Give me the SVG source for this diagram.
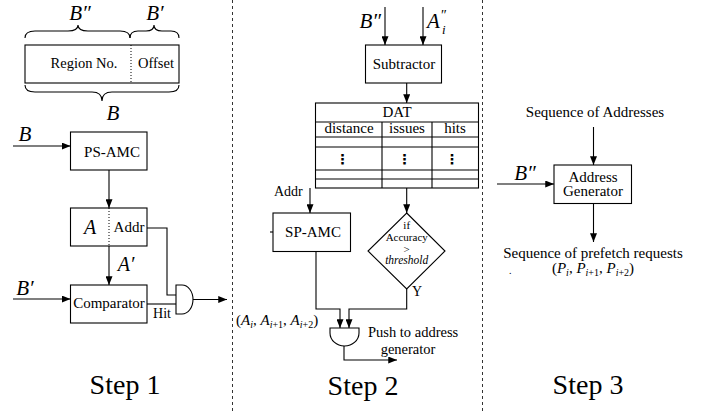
<svg xmlns="http://www.w3.org/2000/svg" width="713" height="411" viewBox="0 0 713 411" font-family="Liberation Serif, DejaVu Serif, serif">
<style>
.t{font-size:15px;fill:#000}
.s{font-size:11px}
.m{font-style:italic;font-size:21px}
.st{font-size:28px}
.c{text-anchor:middle}
.b{fill:#fff;stroke:#000;stroke-width:1.1}
.l{fill:none;stroke:#000;stroke-width:1.1}
.a{fill:none;stroke:#000;stroke-width:1.1;marker-end:url(#ah)}
.d{fill:none;stroke:#333;stroke-width:1;stroke-dasharray:3 3}
.dot{fill:none;stroke:#000;stroke-width:1;stroke-dasharray:1 2}
.vd{font-size:14px;font-weight:bold;text-anchor:middle}
</style>
<defs>
<marker id="ah" viewBox="0 0 10 8" refX="10" refY="4" markerWidth="9" markerHeight="7" markerUnits="userSpaceOnUse" orient="auto"><path d="M0,0 L10,4 L0,8 Z" fill="#000"/></marker>
</defs>
<rect width="713" height="411" fill="#fff"/>
<g id="separators">
<line class="d" x1="232.5" y1="0" x2="232.5" y2="411"/>
<line class="d" x1="482.5" y1="0" x2="482.5" y2="411"/>
</g>
<g id="address-format">
<path class="l" d="M25,38 Q25,31 35,31 L68,31 Q78,31 78,25 Q78,31 88,31 L120,31 Q130,31 130,38"/>
<path class="l" d="M130,38 Q130,31 138,31 L146,31 Q154,31 154,25 Q154,31 162,31 L171,31 Q179,31 179,38"/>
<text class="t m c" x="80" y="20">B″</text>
<text class="t m c" x="155" y="20">B′</text>
<rect class="b" x="25" y="45" width="154" height="38"/>
<line class="dot" x1="131" y1="45" x2="131" y2="83"/>
<text class="t c" x="84" y="68" style="font-size:14.5px">Region No.</text>
<text class="t c" x="156" y="68" style="font-size:14.5px">Offset</text>
<path class="l" d="M25,85 Q25,92 35,92 L92,92 Q102,92 102,101 Q102,92 112,92 L169,92 Q179,92 179,85"/>
<text class="t m c" x="113" y="120">B</text>
</g>
<g id="ps-amc">
<rect class="b" x="70.5" y="132" width="76.5" height="38"/>
<text class="t c" x="112" y="157">PS-AMC</text>
</g>
<g id="a-addr">
<rect class="b" x="70.5" y="208" width="76.5" height="38"/>
<line class="dot" x1="109" y1="208" x2="109" y2="246"/>
<text class="t m c" x="90" y="234" style="font-size:20px">A</text>
<text class="t c" x="129" y="232">Addr</text>
</g>
<g id="comparator">
<rect class="b" x="70.5" y="285" width="76.5" height="38"/>
<text class="t c" x="109" y="308">Comparator</text>
</g>
<g id="and1">
<path class="b" d="M176,285 L182,285 A11,14.5 0 0 1 182,314 L176,314 Z"/>
</g>
<g id="step1-labels">
<text class="t m c" x="25" y="141">B</text>
<text class="t m c" x="25" y="295">B′</text>
<text class="t m c" x="126" y="271" style="font-size:20px">A′</text>
<text class="t c" x="162" y="318" style="font-size:14px">Hit</text>
<text class="t st c" x="125" y="394">Step 1</text>
</g>
<g id="subtractor">
<rect class="b" x="365.5" y="45" width="76" height="38"/>
<text class="t c" x="404" y="69">Subtractor</text>
</g>
<g id="dat">
<rect class="b" x="315.5" y="103" width="163" height="85"/>
<path class="l" d="M315.5,122 H478.5 M315.5,137 H478.5 M315.5,147 H478.5 M315.5,170 H478.5 M315.5,179 H478.5 M382,122 V188 M432,122 V188"/>
<text class="t c" x="397" y="117">DAT</text>
<text class="t c" x="349" y="133">distance</text>
<text class="t c" x="407" y="133">issues</text>
<text class="t c" x="455" y="133">hits</text>
<text class="vd" x="342.5" y="164" font-family="DejaVu Sans, sans-serif">⋮</text>
<text class="vd" x="404.5" y="164" font-family="DejaVu Sans, sans-serif">⋮</text>
<text class="vd" x="452" y="164" font-family="DejaVu Sans, sans-serif">⋮</text>
</g>
<g id="sp-amc">
<rect class="b" x="273" y="213" width="77.5" height="38.5"/>
<line class="l" x1="270" y1="232" x2="273" y2="232"/>
<text class="t c" x="313" y="237">SP-AMC</text>
</g>
<g id="decision">
<polygon class="b" points="406.7,213 445,251 406.7,289 368,251"/>
<text class="t s c" x="406.7" y="229">if</text>
<text class="t s c" x="406.7" y="241">Accuracy</text>
<text class="t s c" x="406.7" y="252.5">&gt;</text>
<text class="t s c" x="406.7" y="264" style="font-style:italic;font-size:11.5px">threshold</text>
</g>
<g id="and2">
<path class="b" d="M330,328 L359,328 L359,333 A14.5,13 0 0 1 330,333 Z"/>
</g>
<g id="step2-labels">
<text class="t m" x="381" y="28" text-anchor="end">B″</text>
<text class="t m" x="427" y="28">A</text>
<text class="t" x="441" y="20" style="font-size:14px">″</text>
<text class="t" x="442" y="34" style="font-size:13px;font-style:italic">i</text>
<text class="t" x="274" y="196" style="font-size:14px">Addr</text>
<text class="t" x="412" y="296" style="font-size:14px">Y</text>
<text class="t" x="236" y="325"><tspan>(</tspan><tspan font-style="italic">A</tspan><tspan font-style="italic" style="font-size:10px" dy="3">i</tspan><tspan dy="-3">, </tspan><tspan font-style="italic">A</tspan><tspan font-style="italic" style="font-size:10px" dy="3">i</tspan><tspan style="font-size:10px">+1</tspan><tspan dy="-3">, </tspan><tspan font-style="italic">A</tspan><tspan font-style="italic" style="font-size:10px" dy="3">i</tspan><tspan style="font-size:10px">+2</tspan><tspan dy="-3">)</tspan></text>
<text class="t" x="368" y="337" style="font-size:14.5px">Push to address</text>
<text class="t c" x="408" y="353.5" style="font-size:14.5px">generator</text>
<text class="t st c" x="363" y="395">Step 2</text>
</g>
<g id="address-generator">
<rect class="b" x="554" y="165" width="77.5" height="38.5"/>
<text class="t c" x="593" y="181.5">Address</text>
<text class="t c" x="593" y="196">Generator</text>
</g>
<g id="step3-labels">
<text class="t c" x="595" y="117">Sequence of Addresses</text>
<text class="t m c" x="525" y="180">B″</text>
<text class="t c" x="593" y="258">Sequence of prefetch requests</text>
<text class="t c" x="593" y="273"><tspan>(</tspan><tspan font-style="italic">P</tspan><tspan font-style="italic" style="font-size:10px" dy="3">i</tspan><tspan dy="-3">, </tspan><tspan font-style="italic">P</tspan><tspan font-style="italic" style="font-size:10px" dy="3">i</tspan><tspan style="font-size:10px">+1</tspan><tspan dy="-3">, </tspan><tspan font-style="italic">P</tspan><tspan font-style="italic" style="font-size:10px" dy="3">i</tspan><tspan style="font-size:10px">+2</tspan><tspan dy="-3">)</tspan></text>
<text class="t" x="509" y="274" style="font-size:10px">.</text>
<text class="t st c" x="588" y="394">Step 3</text>
</g>
<g id="connectors">
<line class="a" x1="13" y1="146" x2="70.5" y2="146"/>
<line class="a" x1="109" y1="170" x2="109" y2="208"/>
<line class="a" x1="109" y1="246" x2="109" y2="285"/>
<line class="a" x1="13" y1="299" x2="70.5" y2="299"/>
<polyline class="l" points="147,228 167,228 167,295 176,295"/>
<line class="l" x1="147" y1="304" x2="176" y2="304"/>
<line class="a" x1="193" y1="299.5" x2="227" y2="299.5"/>
<line class="a" x1="385" y1="7" x2="385" y2="45"/>
<line class="a" x1="423" y1="7" x2="423" y2="45"/>
<line class="a" x1="406.7" y1="83" x2="406.7" y2="103"/>
<line class="a" x1="310" y1="188" x2="310" y2="213"/>
<line class="a" x1="406.7" y1="188" x2="406.7" y2="213"/>
<polyline class="a" points="316,251.5 316,309 340,309 340,328"/>
<polyline class="a" points="406.7,289 406.7,309 349,309 349,328"/>
<polyline class="a" points="344,346 344,360 397,360"/>
<line class="a" x1="593.5" y1="127" x2="593.5" y2="165"/>
<line class="a" x1="497" y1="184" x2="554" y2="184"/>
<line class="a" x1="593.5" y1="203.5" x2="593.5" y2="242"/>
</g>
</svg>
